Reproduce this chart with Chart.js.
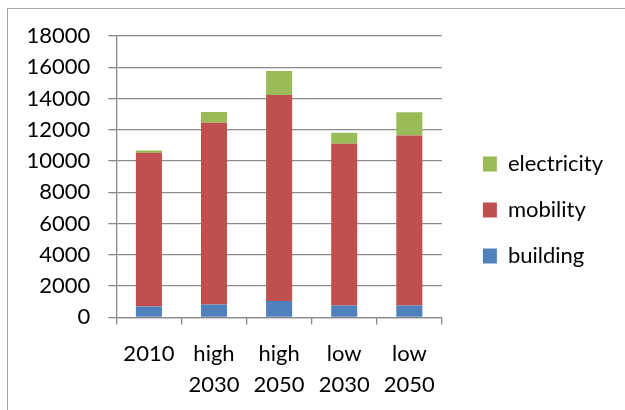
<!DOCTYPE html>
<html>
<head>
<meta charset="utf-8">
<script src="https://cdn.jsdelivr.net/npm/chart.js@4.4.0/dist/chart.umd.min.js"></script>
<style>
  html, body { margin: 0; padding: 0; background: #ffffff; overflow: hidden; }
  #frame { position: absolute; left: 7px; top: 8px; width: 700px; height: 600px; border-left: 1px solid #a6a6a6; border-top: 1px solid #a6a6a6; }
  #c { position: absolute; left: 0; top: 0; }
</style>
</head>
<body>
<div id="frame"></div>
<canvas id="c" width="625" height="410"></canvas>
<script>
const categories = ['2010', ['high', '2030'], ['high', '2050'], ['low', '2030'], ['low', '2050']];
const building = [700, 830, 1050, 760, 760];
const mobility = [9830, 11620, 13170, 10340, 10880];
const electricity = [150, 690, 1540, 710, 1490];
const yTicks = [0, 2000, 4000, 6000, 8000, 10000, 12000, 14000, 16000, 18000];

const gridGray = '#8a8a8a';
const font = { family: 'Lato', size: 22 };
const xFont = { family: 'Lato', size: 22, lineHeight: 1.4 };

new Chart(document.getElementById('c'), {
  type: 'bar',
  data: {
    labels: categories,
    datasets: [
      { label: 'building', data: building, backgroundColor: '#4F81BD', barPercentage: 0.4, categoryPercentage: 1.0 },
      { label: 'mobility', data: mobility, backgroundColor: '#C0504D', barPercentage: 0.4, categoryPercentage: 1.0 },
      { label: 'electricity', data: electricity, backgroundColor: '#9BBB59', barPercentage: 0.4, categoryPercentage: 1.0 }
    ]
  },
  options: {
    responsive: false,
    animation: false,
    layout: { padding: { left: 17, top: 36, right: 12, bottom: -4 } },
    plugins: {
      legend: {
        position: 'right',
        align: 'start',
        reverse: true,
        maxWidth: 220,
        title: { display: true, text: '', font: { size: 10, lineHeight: 1 }, padding: { top: 83, bottom: 0 } },
        labels: {
          font: font,
          color: '#000',
          boxWidth: 14,
          boxHeight: 15,
          padding: 24
        }
      },
      tooltip: { enabled: false }
    },
    scales: {
      x: {
        stacked: true,
        grid: { display: true, drawOnChartArea: false, drawTicks: true, tickLength: 7, color: gridGray, lineWidth: 1.3, offset: true },
        border: { display: true, color: gridGray, width: 1.3 },
        ticks: { font: xFont, color: '#000', padding: 14, maxRotation: 0, autoSkip: false }
      },
      y: {
        stacked: true,
        min: yTicks[0],
        max: yTicks[yTicks.length - 1],
        afterBuildTicks: (scale) => { scale.ticks = yTicks.map(v => ({ value: v })); },
        grid: { color: gridGray, lineWidth: 1.3, drawTicks: true, tickLength: 8 },
        border: { display: true, color: gridGray, width: 1.3 },
        ticks: { font: font, color: '#000', padding: 18, callback: (v) => String(v) }
      },
      gap: {
        type: 'linear',
        position: 'right',
        display: true,
        grid: { display: false, drawTicks: false },
        border: { display: false },
        ticks: { display: false },
        afterFit: (scale) => { scale.width = 17; }
      }
    }
  }
});
</script>
</body>
</html>
